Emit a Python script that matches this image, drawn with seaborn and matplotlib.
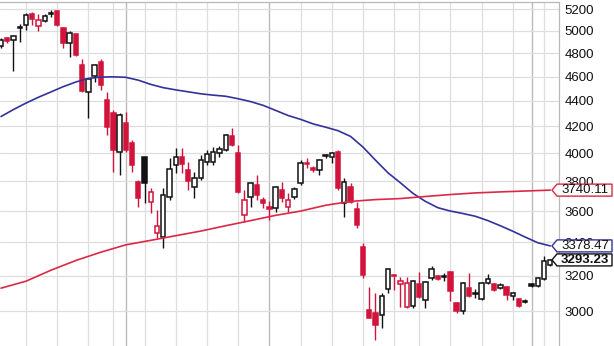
import numpy as np
import matplotlib
matplotlib.use("Agg")
import matplotlib.pyplot as plt
import matplotlib.ticker as mticker
from matplotlib.patches import Polygon
from matplotlib.transforms import IdentityTransform
import seaborn as sns

sns.set_style("white")
plt.rcParams["font.family"] = ["Liberation Sans", "DejaVu Sans"]

RED = "#d2143c"; BLUE = "#32329c"; RED_MA = "#dc2846"; BLACK = "#111111"

# ── daily candles ─────────────────────────────────────────────────────────────
opens = [4864, 4935, 4917, 5030, 5053, 5156, 5044, 5090, 5160, 5184,
         5026, 4890, 4971, 4698, 4473, 4605, 4724, 4407, 4305, 4009,
         4227, 4075, 3795, 3973, 3660, 3458, 3433, 3693, 3915, 3973,
         3879, 3761, 3823, 3937, 3937, 4001, 4023, 4127, 4001, 3574,
         3693, 3775, 3673, 3627, 3620, 3740, 3627, 3693, 3788, 3930,
         3893, 3879, 3983, 3973, 4009, 3653, 3761, 3613, 3371, 3005,
         2989, 2978, 3123, 3204, 3151, 3022, 3027, 3151, 3061, 3186,
         3198, 3192, 3221, 3044, 3000, 3128, 3097, 3066, 3157, 3151,
         3128, 3134, 3083, 3066, 3052, 3151, 3140, 3180, 3262]
highs = [4935, 4944, 4962, 5062, 5165, 5174, 5156, 5156, 5193, 5193,
         5035, 4998, 4980, 4750, 4588, 4707, 4750, 4473, 4328, 4305,
         4312, 4097, 3809, 3973, 3754, 3607, 3754, 3965, 4038, 4038,
         3937, 3865, 3987, 4023, 4045, 4053, 4142, 4188, 4060, 3740,
         3795, 3844, 3693, 3666, 3768, 3795, 3720, 3761, 3951, 3965,
         3908, 3958, 3994, 4009, 4023, 3823, 3788, 3660, 3396, 3134,
         3100, 3100, 3245, 3204, 3192, 3192, 3174, 3221, 3168, 3256,
         3204, 3215, 3227, 3050, 3163, 3215, 3123, 3163, 3209, 3157,
         3157, 3140, 3106, 3072, 3066, 3157, 3192, 3317, 3300]
lows = [4846, 4890, 4647, 4899, 5007, 5053, 4998, 5081, 5128, 5044,
        4846, 4767, 4776, 4473, 4266, 4555, 4489, 4135, 3865, 3844,
        4009, 3865, 3627, 3653, 3587, 3427, 3365, 3673, 3858, 3858,
        3740, 3686, 3809, 3915, 3915, 3973, 4016, 4053, 3720, 3528,
        3627, 3673, 3620, 3541, 3594, 3660, 3594, 3680, 3775, 3893,
        3865, 3844, 3965, 3930, 3740, 3561, 3653, 3490, 3186, 2962,
        2845, 2909, 3100, 3117, 3022, 3016, 3016, 3072, 3016, 3174,
        3174, 3168, 3055, 2989, 2984, 3078, 3072, 3061, 3151, 3111,
        3123, 3061, 3061, 3022, 3044, 3134, 3134, 3174, 3258]
closes = [4917, 4908, 4953, 5035, 5146, 5109, 5099, 5137, 5165, 5053,
          4890, 4980, 4785, 4481, 4579, 4698, 4530, 4196, 4023, 4289,
          4023, 3915, 3686, 3788, 3727, 3503, 3706, 3886, 3973, 3922,
          3802, 3823, 3951, 3994, 4009, 4030, 4135, 4060, 3727, 3673,
          3788, 3706, 3653, 3613, 3761, 3686, 3673, 3747, 3930, 3922,
          3879, 3951, 3987, 4001, 3754, 3795, 3660, 3509, 3204, 2962,
          2925, 3083, 3239, 3198, 3168, 3157, 3168, 3078, 3163, 3239,
          3180, 3198, 3111, 3000, 3157, 3083, 3100, 3157, 3180, 3117,
          3146, 3089, 3100, 3027, 3055, 3140, 3186, 3286, 3293.23]

# moving averages, sampled every other session along the chart
ma50_idx = list(range(0, 89, 2))
ma50_val = [4277, 4332, 4383, 4430, 4473, 4517, 4555, 4585, 4596, 4598,
            4594, 4570, 4535, 4508, 4490, 4474, 4458, 4447, 4438, 4418,
            4395, 4365, 4325, 4285, 4255, 4220, 4195, 4168, 4125, 4045,
            3950, 3860, 3790, 3718, 3664, 3622, 3600, 3584, 3566, 3538,
            3505, 3470, 3433, 3398, 3378.47]
ma200_idx = list(range(0, 89, 4))
ma200_val = [3128, 3168, 3232, 3290, 3340, 3385, 3413, 3442, 3471, 3505,
             3538, 3572, 3600, 3638, 3664, 3676, 3683, 3697, 3710, 3721,
             3728, 3734, 3740.11]

week_lines = [4, 9, 14, 18, 23, 28, 33, 38, 48, 53, 58, 63, 67, 72, 77, 82, 87]
month_lines = [20, 43, 85]
price_ticks = [3000, 3200, 3400, 3600, 3800, 4000, 4200, 4400, 4600, 4800, 5000, 5200]

# ── figure ────────────────────────────────────────────────────────────────────
fig = plt.figure(figsize=(6.14, 3.46), dpi=100)
ax = fig.add_axes([0, 0, 559 / 614, 344 / 346])
ax.set_yscale("log")
ax.set_ylim(2815, 5270)
ax.set_xlim(-0.16, 89.4)

for x in week_lines:
    ax.axvline(x, color="#dedede", lw=0.9, zorder=0)
for x in month_lines:
    ax.axvline(x, color="#bababa", lw=1.0, zorder=0)
for y in price_ticks:
    ax.axhline(y, color="#dedede", lw=0.9, zorder=0)

# candle colours: black/red by close vs previous close, filled when close < open
idx = np.arange(len(closes))
prev = [closes[0]] + closes[:-1]
edge = [BLACK if c >= p else RED for c, p in zip(closes, prev)]
face = [e if c < o else "white" for e, o, c in zip(edge, opens, closes)]
bottoms = [min(o, c) for o, c in zip(opens, closes)]
heights = [abs(c - o) for o, c in zip(opens, closes)]

ax.vlines(idx, lows, highs, colors=edge, lw=1.0, zorder=2)
ax.bar(idx, heights, bottom=bottoms, width=0.7, color=face,
       edgecolor=edge, linewidth=1.1, zorder=3)

sns.lineplot(x=ma50_idx, y=ma50_val, ax=ax, color=BLUE, lw=1.2, zorder=4)
sns.lineplot(x=ma200_idx, y=ma200_val, ax=ax, color=RED_MA, lw=1.2, zorder=4)

ax.yaxis.set_major_locator(mticker.FixedLocator(price_ticks))
ax.yaxis.set_major_formatter(mticker.FixedFormatter([str(t) for t in price_ticks]))
ax.yaxis.set_minor_locator(mticker.NullLocator())
ax.yaxis.tick_right()
ax.tick_params(axis="y", length=0, pad=4, labelsize=9.5, labelcolor="#111111")
ax.set_xticks([])
for s in ["left", "bottom"]:
    ax.spines[s].set_visible(False)
for s in ["top", "right"]:
    ax.spines[s].set_color("#b8b8b8")
    ax.spines[s].set_linewidth(0.9)

# value tags on the right edge (they sit on top of the tick labels, as in the source)
H = 346
for val, col, bold in [(ma200_val[-1], RED_MA, False),
                       (ma50_val[-1], BLUE, False),
                       (closes[-1], BLACK, True)]:
    yd = ax.transData.transform((0, val))[1]
    pts = [(552, yd), (557, yd + 6), (612, yd + 6), (612, yd - 6), (557, yd - 6)]
    fig.add_artist(Polygon(pts, closed=True, facecolor="white", edgecolor=col,
                           lw=1.0, transform=IdentityTransform(), zorder=5))
    fig.text(585 / 614, yd / H, f"{val:.2f}", ha="center", va="center", zorder=6,
             fontsize=9.5, fontweight="bold" if bold else "normal", color="#111111")

plt.savefig("out.png", dpi=100)
plt.close()
